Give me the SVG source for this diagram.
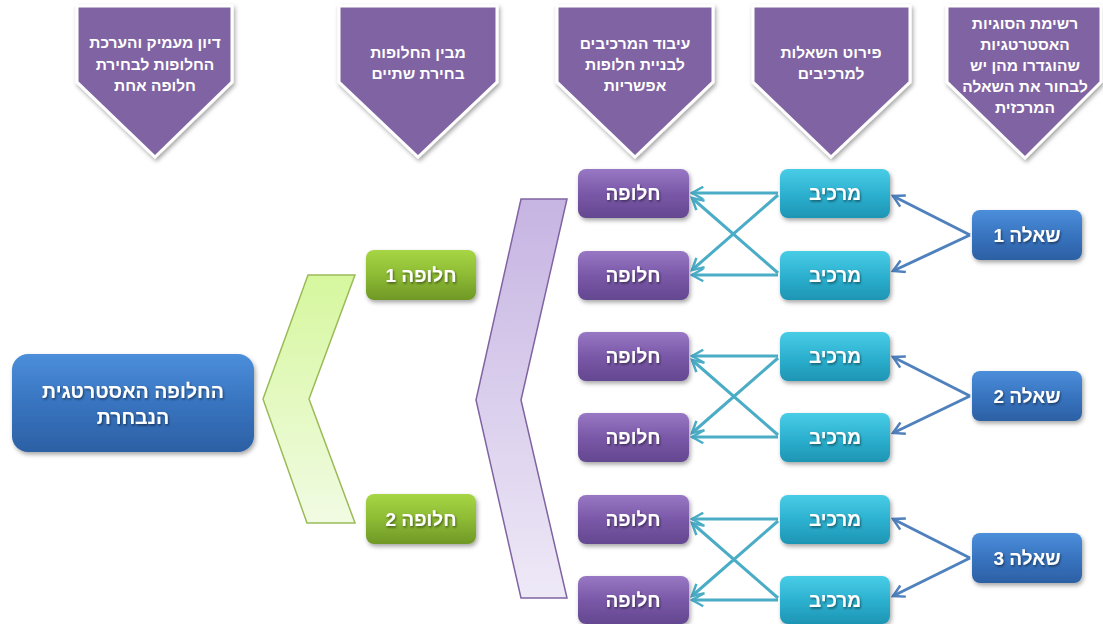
<svg xmlns="http://www.w3.org/2000/svg" width="1103" height="624" viewBox="0 0 1103 624">
<style>
text{font-family:"Liberation Sans","DejaVu Sans",sans-serif;fill:#fff;text-anchor:middle;direction:rtl}
.hd{font-size:15.5px;font-weight:bold}
.bx{font-size:19px;font-weight:bold}
.big{font-size:19.5px;font-weight:bold}
.pent{fill:#8064A2;stroke:#fff;stroke-width:3;filter:url(#sh)}
.cy{stroke:#4BACC6;stroke-width:3;fill:none;marker-end:url(#ac)}
.bl{stroke:#4F81BD;stroke-width:3;fill:none;marker-end:url(#ab)}
</style>
<defs>
<filter id="sh" x="-20%" y="-20%" width="140%" height="140%"><feDropShadow dx="1.5" dy="2.5" stdDeviation="2" flood-color="#000" flood-opacity="0.35"/></filter>
<filter id="ts" x="-10%" y="-20%" width="120%" height="140%"><feDropShadow dx="1" dy="1.5" stdDeviation="0.8" flood-color="#000" flood-opacity="0.5"/></filter>
<linearGradient id="gp" x1="0" y1="0" x2="0" y2="1"><stop offset="0" stop-color="#9878C4"/><stop offset="0.5" stop-color="#7A58A8"/><stop offset="1" stop-color="#644790"/></linearGradient>
<linearGradient id="gc" x1="0" y1="0" x2="0" y2="1"><stop offset="0" stop-color="#48CDE6"/><stop offset="0.5" stop-color="#2DB1D0"/><stop offset="1" stop-color="#1E95B4"/></linearGradient>
<linearGradient id="gb" x1="0" y1="0" x2="0" y2="1"><stop offset="0" stop-color="#4C8EDA"/><stop offset="0.5" stop-color="#3874C0"/><stop offset="1" stop-color="#2C60A4"/></linearGradient>
<linearGradient id="gg" x1="0" y1="0" x2="0" y2="1"><stop offset="0" stop-color="#A6D645"/><stop offset="0.5" stop-color="#8DBB34"/><stop offset="1" stop-color="#6F9826"/></linearGradient>
<linearGradient id="cg" x1="0" y1="0" x2="0" y2="1"><stop offset="0" stop-color="#D6F79E"/><stop offset="1" stop-color="#F1FBE3"/></linearGradient>
<linearGradient id="cp" x1="0" y1="0" x2="0" y2="1"><stop offset="0" stop-color="#C6B4E2"/><stop offset="1" stop-color="#EEE9F7"/></linearGradient>
<marker id="ac" viewBox="0 0 12 12" refX="10" refY="6" markerWidth="5" markerHeight="5" orient="auto" markerUnits="strokeWidth"><path d="M1,1 L10,6 L1,11" fill="none" stroke="#4BACC6" stroke-width="2"/></marker>
<marker id="ab" viewBox="0 0 12 12" refX="10" refY="6" markerWidth="5" markerHeight="5" orient="auto" markerUnits="strokeWidth"><path d="M1,1 L10,6 L1,11" fill="none" stroke="#4F81BD" stroke-width="2"/></marker>
</defs>
<rect width="1103" height="624" fill="#fff"/>

<g id="h1"><polygon class="pent" points="77,6 232,6 232,82 155,157 77,82"/>
<text class="hd" x="155" y="48">דיון מעמיק והערכת</text><text class="hd" x="155" y="70">החלופות לבחירת</text><text class="hd" x="155" y="91">חלופה אחת</text></g>
<g id="h2"><polygon class="pent" points="339,6 497,6 497,82 418,157 339,82"/>
<text class="hd" x="418" y="58">מבין החלופות</text><text class="hd" x="418" y="79">בחירת שתיים</text></g>
<g id="h3"><polygon class="pent" points="557,6 713,6 713,82 635,157 557,82"/>
<text class="hd" x="635" y="49">עיבוד המרכיבים</text><text class="hd" x="635" y="70">לבניית חלופות</text><text class="hd" x="635" y="91">אפשריות</text></g>
<g id="h4"><polygon class="pent" points="753,6 910,6 910,82 831,157 753,82"/>
<text class="hd" x="831" y="58">פירוט השאלות</text><text class="hd" x="831" y="79">למרכיבים</text></g>
<g id="h5"><polygon class="pent" points="947,6 1101,6 1101,82 1025,158 947,82"/>
<text class="hd" x="1025" y="29">רשימת הסוגיות</text><text class="hd" x="1025" y="50">האסטרטגיות</text><text class="hd" x="1025" y="71">שהוגדרו מהן יש</text><text class="hd" x="1025" y="92">לבחור את השאלה</text><text class="hd" x="1025" y="113">המרכזית</text></g>

<g id="chevG"><polygon points="308,275 355,275 309,399 355,523 307,523 263,399" fill="url(#cg)" stroke="#9BBB59" stroke-width="1.5"/></g>
<g id="chevP"><polygon points="521,199 567,199 521,400 567,598 521,598 476,400" fill="url(#cp)" stroke="#8064A2" stroke-width="1.5"/></g>

<g id="connectors">
<path class="cy" d="M778,193 L692,193"/><path class="cy" d="M778,195 L692,270"/>
<path class="cy" d="M778,275 L692,275"/><path class="cy" d="M778,273 L692,198"/>
<path class="cy" d="M778,356 L692,356"/><path class="cy" d="M778,358 L692,433"/>
<path class="cy" d="M778,437 L692,437"/><path class="cy" d="M778,435 L692,360"/>
<path class="cy" d="M778,519 L692,519"/><path class="cy" d="M778,521 L692,596"/>
<path class="cy" d="M778,600 L692,600"/><path class="cy" d="M778,598 L692,523"/>
<path class="bl" d="M970,235 L893,196"/><path class="bl" d="M970,235 L893,271"/>
<path class="bl" d="M970,396 L893,357"/><path class="bl" d="M970,396 L893,433"/>
<path class="bl" d="M970,558 L893,519"/><path class="bl" d="M970,558 L893,596"/>
</g>

<g id="main"><rect x="12" y="354" width="242" height="98" rx="16" fill="url(#gb)" filter="url(#sh)"/>
<text class="big" x="133" y="398" filter="url(#ts)">החלופה האסטרטגית</text><text class="big" x="133" y="424" filter="url(#ts)">הנבחרת</text></g>

<g id="g1"><rect x="366" y="250" width="110" height="50" rx="8" fill="url(#gg)" filter="url(#sh)"/><text class="bx" x="421" y="282" filter="url(#ts)">חלופה 1</text></g>
<g id="g2"><rect x="366" y="494" width="110" height="50" rx="8" fill="url(#gg)" filter="url(#sh)"/><text class="bx" x="421" y="526" filter="url(#ts)">חלופה 2</text></g>

<g id="a1"><rect x="578" y="169" width="111" height="49" rx="8" fill="url(#gp)" filter="url(#sh)"/><text class="bx" x="633" y="200" filter="url(#ts)">חלופה</text></g>
<g id="a2"><rect x="578" y="251" width="111" height="49" rx="8" fill="url(#gp)" filter="url(#sh)"/><text class="bx" x="633" y="282" filter="url(#ts)">חלופה</text></g>
<g id="a3"><rect x="578" y="332" width="111" height="49" rx="8" fill="url(#gp)" filter="url(#sh)"/><text class="bx" x="633" y="363" filter="url(#ts)">חלופה</text></g>
<g id="a4"><rect x="578" y="413" width="111" height="49" rx="8" fill="url(#gp)" filter="url(#sh)"/><text class="bx" x="633" y="444" filter="url(#ts)">חלופה</text></g>
<g id="a5"><rect x="578" y="495" width="111" height="49" rx="8" fill="url(#gp)" filter="url(#sh)"/><text class="bx" x="633" y="526" filter="url(#ts)">חלופה</text></g>
<g id="a6"><rect x="578" y="576" width="111" height="48" rx="8" fill="url(#gp)" filter="url(#sh)"/><text class="bx" x="633" y="607" filter="url(#ts)">חלופה</text></g>

<g id="m1"><rect x="780" y="169" width="110" height="49" rx="8" fill="url(#gc)" filter="url(#sh)"/><text class="bx" x="835" y="200" filter="url(#ts)">מרכיב</text></g>
<g id="m2"><rect x="780" y="251" width="110" height="49" rx="8" fill="url(#gc)" filter="url(#sh)"/><text class="bx" x="835" y="282" filter="url(#ts)">מרכיב</text></g>
<g id="m3"><rect x="780" y="332" width="110" height="49" rx="8" fill="url(#gc)" filter="url(#sh)"/><text class="bx" x="835" y="363" filter="url(#ts)">מרכיב</text></g>
<g id="m4"><rect x="780" y="413" width="110" height="49" rx="8" fill="url(#gc)" filter="url(#sh)"/><text class="bx" x="835" y="444" filter="url(#ts)">מרכיב</text></g>
<g id="m5"><rect x="780" y="495" width="110" height="49" rx="8" fill="url(#gc)" filter="url(#sh)"/><text class="bx" x="835" y="526" filter="url(#ts)">מרכיב</text></g>
<g id="m6"><rect x="780" y="576" width="110" height="48" rx="8" fill="url(#gc)" filter="url(#sh)"/><text class="bx" x="835" y="607" filter="url(#ts)">מרכיב</text></g>

<g id="q1"><rect x="972" y="210" width="110" height="50" rx="8" fill="url(#gb)" filter="url(#sh)"/><text class="bx" x="1027" y="242" filter="url(#ts)">שאלה 1</text></g>
<g id="q2"><rect x="972" y="371" width="110" height="50" rx="8" fill="url(#gb)" filter="url(#sh)"/><text class="bx" x="1027" y="403" filter="url(#ts)">שאלה 2</text></g>
<g id="q3"><rect x="972" y="533" width="110" height="50" rx="8" fill="url(#gb)" filter="url(#sh)"/><text class="bx" x="1027" y="565" filter="url(#ts)">שאלה 3</text></g>
</svg>
